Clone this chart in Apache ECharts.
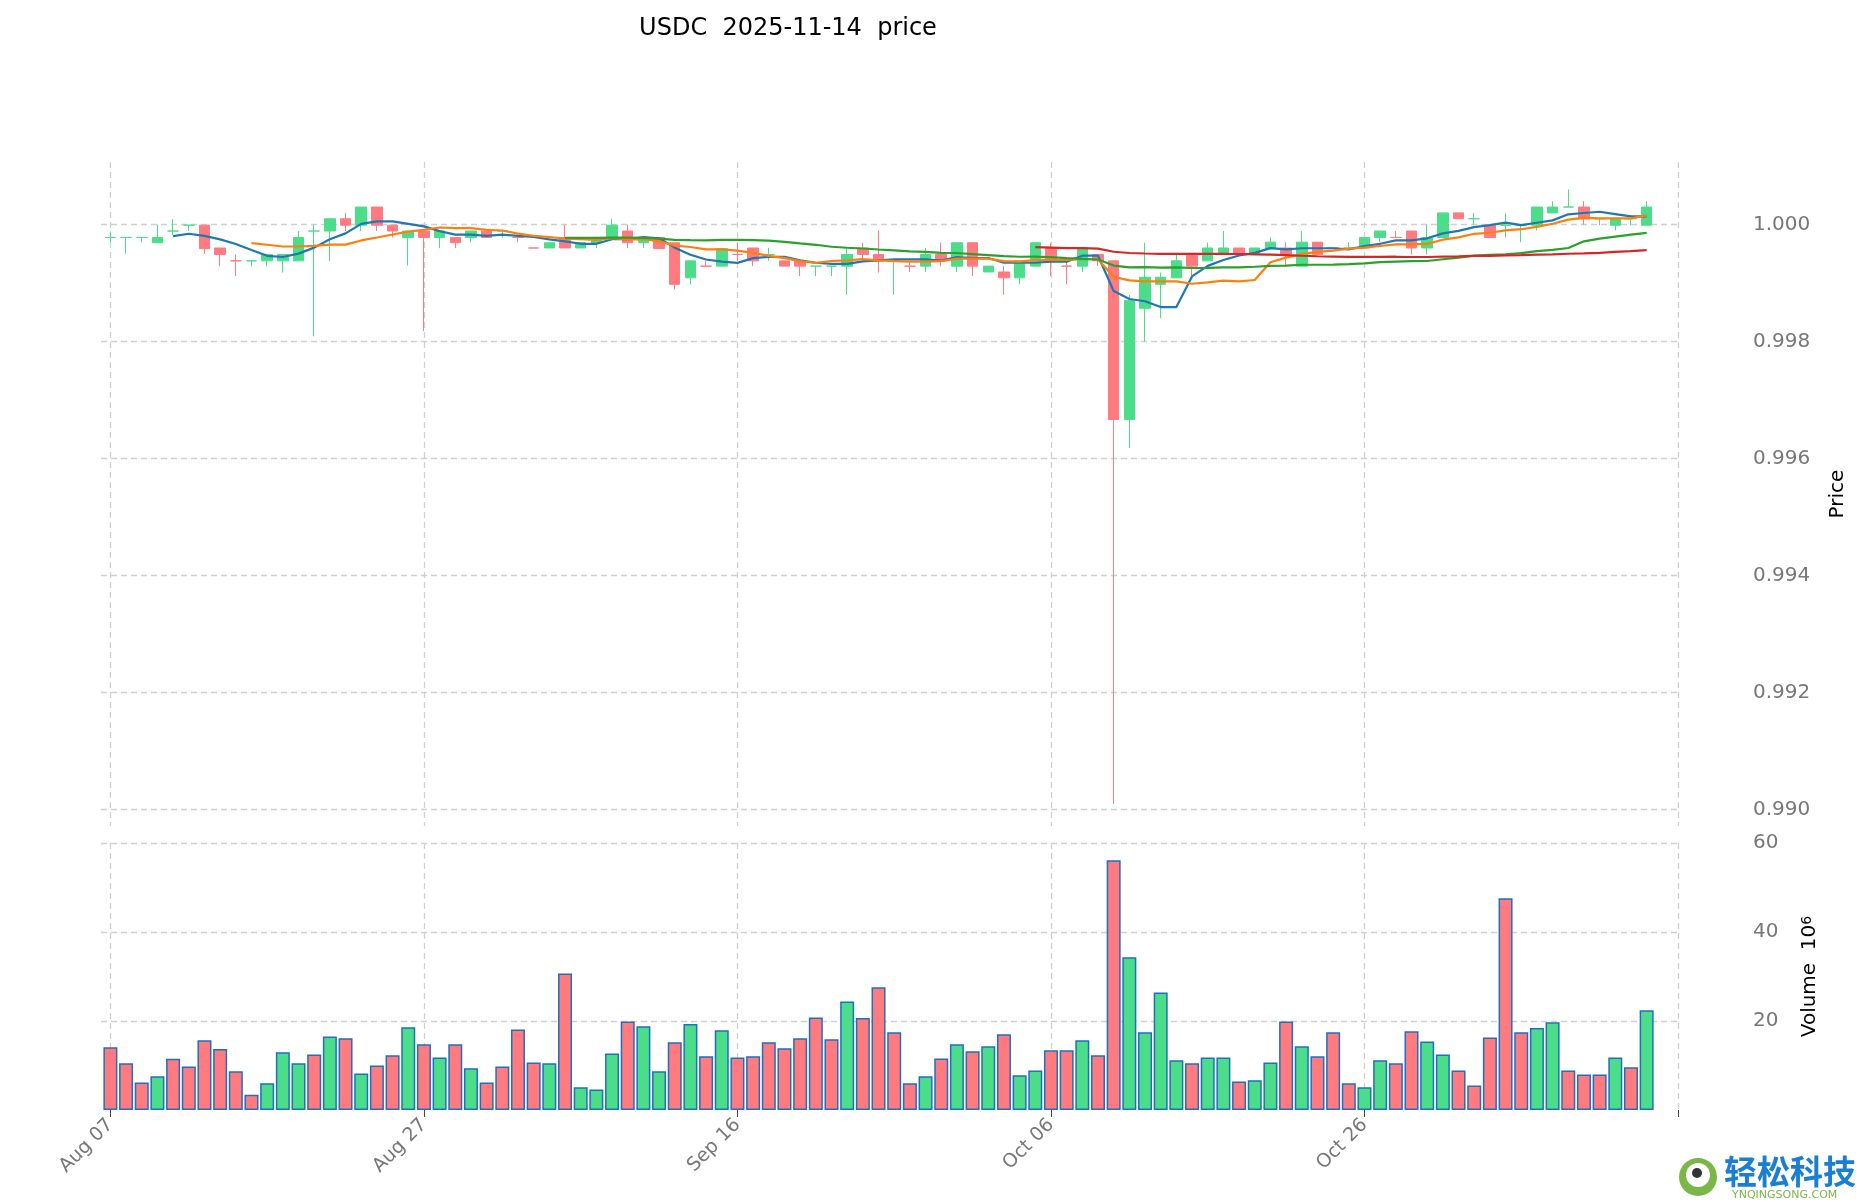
<!DOCTYPE html>
<html>
<head>
<meta charset="utf-8">
<script src="https://cdn.jsdelivr.net/npm/echarts@6/dist/echarts.min.js"></script>
<style>html,body{margin:0;padding:0;background:#fff}#main{width:1860px;height:1202px}</style>
</head>
<body>
<div id="main"></div>
<script>
// daily candles from Aug 07 (index 0), [open, close, low, high]
var opens = [0.99978,0.99978,0.99978,0.99969,0.99989,0.99999,0.99999,0.9996,0.99938,0.99938,
  0.99938,0.99938,0.99938,0.99989,0.99989,1.0001,0.99999,1.0003,0.99999,0.99978,
  0.99989,0.99978,0.99978,0.99978,0.99989,0.99989,0.99978,0.9996,0.9996,0.99978,
  0.9996,0.99969,0.99978,0.99989,0.99969,0.99978,0.99969,0.99909,0.99929,0.99929,
  0.99949,0.9996,0.99949,0.99938,0.99938,0.99929,0.99929,0.99929,0.9996,0.99949,
  0.99938,0.99929,0.99929,0.99949,0.99929,0.99969,0.99919,0.99919,0.99909,0.99929,
  0.9996,0.99929,0.99929,0.99949,0.99938,0.99667,0.99857,0.99898,0.99909,0.9995,
  0.99938,0.99949,0.9996,0.99949,0.99959,0.9996,0.99929,0.9997,0.9996,0.9996,
  0.9996,0.99978,0.99978,0.99989,0.9996,0.99978,1.0002,1.0001,0.99999,0.99999,
  0.99999,0.99999,1.0002,1.0003,1.0003,1.0001,0.99999,1.0001,0.99999];
var closes = [0.99978,0.99978,0.99978,0.99978,0.99989,0.99999,0.99959,0.99949,0.99938,0.99938,
  0.99949,0.99949,0.99978,0.99989,1.0001,0.99999,1.0003,0.99999,0.99989,0.99989,
  0.99978,0.99989,0.99969,0.99989,0.99978,0.99989,0.99978,0.9996,0.99969,0.9996,
  0.99969,0.99978,0.99999,0.99969,0.99978,0.99959,0.99898,0.99938,0.99929,0.99959,
  0.99949,0.99938,0.99949,0.99929,0.99929,0.99929,0.99929,0.99949,0.99949,0.99938,
  0.99938,0.99929,0.99949,0.99938,0.99969,0.99929,0.99929,0.99909,0.99938,0.99969,
  0.99938,0.99929,0.9996,0.99938,0.99667,0.9987,0.9991,0.9991,0.99938,0.99929,
  0.9996,0.9996,0.99949,0.9996,0.9997,0.99949,0.9997,0.99949,0.9996,0.9996,
  0.99978,0.99989,0.99978,0.9996,0.99978,1.0002,1.0001,1.0001,0.99978,0.99999,
  0.99999,1.0003,1.0003,1.0003,1.0001,1.0001,1.0001,1.0001,1.0003];
var lows = [0.99970,0.9995,0.9997,0.99969,0.99982,0.99989,0.9995,0.99929,0.99912,0.99929,
  0.99929,0.99918,0.99938,0.99809,0.99938,0.99989,0.99989,0.99989,0.99978,0.9993,
  0.99818,0.9996,0.9996,0.9997,0.99978,0.99978,0.9997,0.9996,0.9996,0.9996,
  0.9996,0.9996,0.99978,0.9996,0.9996,0.99959,0.99889,0.99898,0.99929,0.99929,
  0.99938,0.99929,0.99938,0.99929,0.99912,0.99912,0.99912,0.9988,0.99938,0.99918,
  0.9988,0.99919,0.99919,0.99929,0.99919,0.99912,0.99919,0.9988,0.99898,0.99929,
  0.99912,0.99898,0.99919,0.99929,0.9901,0.99618,0.998,0.9984,0.99929,0.9991,
  0.99938,0.99949,0.99949,0.99949,0.99959,0.99929,0.99949,0.99949,0.9996,0.9996,
  0.9996,0.9997,0.99978,0.99949,0.99949,0.99978,1.0001,1.0,0.99978,0.99978,
  0.9997,0.9999,1.0002,1.0003,1.0,0.99999,0.9999,0.99999,0.99999];
var highs = [0.99988,0.99978,0.99978,1.0,1.00009,0.99999,0.99999,0.9996,0.99949,0.99938,
  0.99949,0.99949,0.99989,1.0,1.0001,1.0002,1.0003,1.0003,0.99999,0.99989,
  0.99989,0.99989,0.99978,0.99989,0.99989,0.99989,0.99978,0.9996,0.99969,1.0,
  0.99969,0.99978,1.0001,1.0,0.99978,0.99978,0.99969,0.99938,0.99938,0.99959,
  0.99969,0.9996,0.9996,0.99938,0.99929,0.99929,0.99929,0.9996,0.99969,0.9999,
  0.99938,0.99938,0.9996,0.99969,0.99969,0.99969,0.99929,0.99929,0.99938,0.99969,
  0.99969,0.99938,0.9996,0.99938,0.99938,0.9988,0.99969,0.99918,0.99949,0.9995,
  0.99969,0.99989,0.9996,0.9996,0.99978,0.9997,0.99989,0.9997,0.9996,0.9997,
  0.99978,0.99989,0.99989,0.99989,1.0,1.0002,1.0002,1.0002,0.99989,1.0002,
  0.99999,1.0003,1.0004,1.0006,1.0004,1.0001,1.0001,1.0001,1.0004];
var volumes = [14.1,10.5,6.2,7.6,11.5,9.8,15.7,13.7,8.7,3.4,
  6.0,13.0,10.5,12.5,16.5,16.1,8.2,10.0,12.3,18.6,
  14.8,11.8,14.8,9.4,6.2,9.8,18.1,10.7,10.5,30.7,
  5.1,4.6,12.7,19.9,18.8,8.7,15.2,19.3,12.1,17.9,
  11.8,12.1,15.2,13.9,16.1,20.8,15.9,24.4,20.7,27.6,
  17.5,6.0,7.6,11.6,14.8,13.2,14.3,17.0,7.8,8.9,
  13.4,13.4,15.7,12.3,56.1,34.3,17.5,26.4,11.2,10.5,
  11.8,11.8,6.4,6.7,10.7,19.9,14.3,12.1,17.5,6.0,
  5.1,11.2,10.5,17.7,15.4,12.5,8.9,5.5,16.3,47.6,
  17.5,18.4,19.7,8.9,8.0,8.0,11.8,9.6,22.4];
// volume bar direction as shown: G = up, R = down
var volumeDirs = ('RRRGRRRRRRGGGRGRGRRGRGRGRRRRGRGGGRGGRGRGRRRRRRRG' +
  'RRRRGRGRGRGGRRGRRGGGGRGGRGGRGRRRGGRRGGRRRRRGGRRRGRG').split('');
var dateTicks = [0, 20, 40, 60, 80];
var dateLabels = ['Aug 07', 'Aug 27', 'Sep 16', 'Oct 06', 'Oct 26'];
var priceTicks = [0.990, 0.992, 0.994, 0.996, 0.998, 1.000];
var volumeTicks = [20, 40, 60];
var maPeriods = [5, 10, 30, 60];
var maColors = ['#1f77b4', '#ff7f0e', '#2ca02c', '#d62728'];

var UP = '#4cdd8a', DOWN = '#ff7b80';
var candles = opens.map(function (o, i) { return [i, o, closes[i], lows[i], highs[i]]; });
var volData = volumes.map(function (v, i) {
  return { value: [i, v], itemStyle: { color: volumeDirs[i] === 'G' ? UP : DOWN } };
});
function ma(n) {
  var out = [];
  for (var i = n - 1; i < closes.length; i++) {
    var s = 0;
    for (var j = i - n + 1; j <= i; j++) s += closes[j];
    out.push([i, s / n]);
  }
  return out;
}
var gray = '#777';
var grid = { color: '#d0d0d0', type: [6, 4], width: 1.3 };
function xAxis(idx, labels) {
  return {
    type: 'value', gridIndex: idx, min: -0.6, max: 100,
    axisLine: { show: false },
    axisTick: { show: idx === 1, customValues: dateTicks.concat([100]), length: 7, lineStyle: { color: '#444' } },
    axisLabel: labels ? {
      customValues: dateTicks, rotate: 45, color: gray, fontSize: 19, margin: 12,
      formatter: function (v) { return dateLabels[dateTicks.indexOf(v)]; }
    } : { show: false },
    splitLine: { show: true, lineStyle: grid }
  };
}
var series = [{
  type: 'candlestick', xAxisIndex: 0, yAxisIndex: 0, data: candles,
  encode: { x: 0, y: [1, 2, 3, 4] }, barWidth: 11,
  itemStyle: { color: UP, color0: DOWN, borderColor: UP, borderColor0: DOWN, borderWidth: 1 }
}];
maPeriods.forEach(function (n, k) {
  series.push({ type: 'line', xAxisIndex: 0, yAxisIndex: 0, data: ma(n), showSymbol: false,
    lineStyle: { color: maColors[k], width: 2.2 }, z: 5 });
});
series.push({ type: 'bar', xAxisIndex: 1, yAxisIndex: 1, data: volData, barWidth: 14,
  itemStyle: { borderColor: '#1f6fc0', borderWidth: 1.5 } });

var chart = echarts.init(document.getElementById('main'));
chart.setOption({
  animation: false,
  title: { text: 'USDC  2025-11-14  price', left: 783, top: 12, textAlign: 'center',
    textStyle: { fontSize: 24, fontWeight: 'normal', color: '#000', fontFamily: 'DejaVu Sans' } },
  textStyle: { fontFamily: 'DejaVu Sans' },
  grid: [
    { left: 101, right: 182, top: 162, height: 664 },
    { left: 101, right: 182, top: 843, height: 267 }
  ],
  xAxis: [xAxis(0, false), xAxis(1, true)],
  yAxis: [{
    type: 'value', gridIndex: 0, position: 'right', min: 0.98972, max: 1.00107, scale: true,
    name: 'Price', nameLocation: 'middle', nameRotate: 90, nameGap: 150,
    nameTextStyle: { fontSize: 20, color: '#000' },
    axisLine: { show: false },
    axisTick: { show: false, customValues: priceTicks },
    axisLabel: { customValues: priceTicks, color: gray, fontSize: 20, margin: 75,
      formatter: function (v) { return v.toFixed(3); } },
    splitLine: { show: true, lineStyle: grid }
  }, {
    type: 'value', gridIndex: 1, position: 'right', min: 0, max: 60,
    name: '{a|Volume  10}{s|6}', nameLocation: 'middle', nameRotate: 90, nameGap: 122,
    nameTextStyle: { rich: { a: { fontSize: 20, color: '#000' }, s: { fontSize: 14, color: '#000', verticalAlign: 'top' } } },
    axisLine: { show: false },
    axisTick: { show: false, customValues: volumeTicks },
    axisLabel: { customValues: volumeTicks, color: gray, fontSize: 20, margin: 75 },
    splitLine: { show: true, lineStyle: grid }
  }],
  series: series,
  graphic: [
    { type: 'circle', shape: { cx: 1698, cy: 1177, r: 19 }, style: { fill: '#7ab648' } },
    { type: 'circle', shape: { cx: 1698, cy: 1175, r: 12 }, style: { fill: '#fff' } },
    { type: 'circle', shape: { cx: 1697, cy: 1173, r: 5 }, style: { fill: '#333' } },
    { type: 'text', left: 1724, top: 1155, style: { text: '轻松科技', fill: '#1a7fd0', fontSize: 33, fontWeight: 'bold', fontFamily: 'Noto Sans CJK SC' } },
    { type: 'text', left: 1732, top: 1190, style: { text: 'YNQINGSONG.COM', fill: '#7ab648', fontSize: 11, fontFamily: 'DejaVu Sans' } }
  ]
});
</script>
</body>
</html>
